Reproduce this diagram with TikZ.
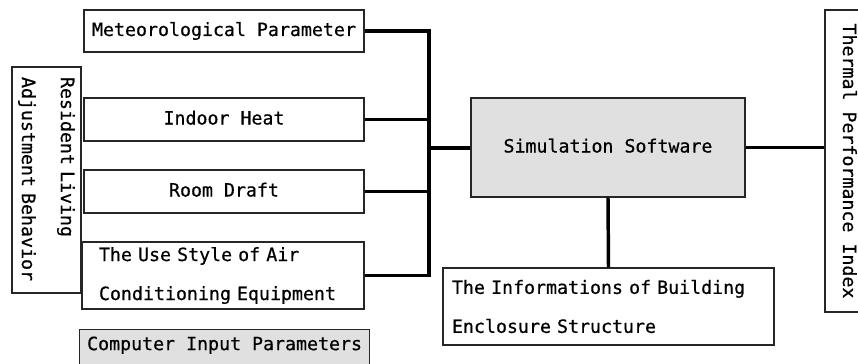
\documentclass[tikz,border=0pt]{standalone}
\usepackage{fontspec}
\newfontfamily\diagmono{DejaVu Sans Mono}[FakeBold=0.6]
\tikzset{
  box/.style={draw=black!85, line width=0.9pt, inner sep=0pt, align=center,
    text=black, font=\diagmono\fontsize{13.7pt}{29.25pt}\selectfont},
  oneline/.style={text height=10pt, text depth=2.5pt},
  shaded/.style={fill=black!12},
  wire/.style={line width=2.6pt, draw=black}
}
\begin{document}
\begin{tikzpicture}[x=0.75pt, y=-0.75pt]
  \useasboundingbox (0,0) rectangle (858,364);

  % input parameter boxes
  \node[box, oneline, minimum width=210pt, minimum height=31.5pt] (met) at (224,31) {Meteorological Parameter};
  \node[box, oneline, minimum width=210pt, minimum height=32.25pt] (heat) at (224,119.5) {Indoor Heat};
  \node[box, oneline, minimum width=210pt, minimum height=32.25pt] (draft) at (224,191.5) {Room Draft};
  \node[box, align=left, text width=186pt, minimum width=211.5pt, minimum height=50.25pt] (air) at (223,275.5)
    {The Use Style of Air\\Conditioning Equipment};

  % grouping label on the left
  \node[box, rotate=-90, align=left, text width=154.5pt, minimum width=169.5pt, minimum height=51.75pt] (res) at (46.5,180)
    {Resident Living\\Adjustment Behavior};

  % legend box
  \node[box, shaded, anchor=north west, minimum width=217.5pt, text height=15.4pt, text depth=30pt] (comp) at (79,329)
    {Computer Input Parameters};

  % core
  \node[box, shaded, oneline, minimum width=205.5pt, minimum height=74.25pt] (sim) at (608,147.5) {Simulation Software};
  \node[box, align=left, text width=234.75pt, minimum width=248.25pt, minimum height=57.75pt] (info) at (608.5,306.5)
    {The Informations of Building\\Enclosure Structure};
  \node[box, rotate=-90, oneline, minimum width=226.5pt, minimum height=34.5pt] (therm) at (848,161)
    {Thermal Performance Index};

  % connectors
  \coordinate (bus) at (429,148);
  \draw[wire] (met.east) -| (bus);
  \draw[wire] (heat.east) -| (bus);
  \draw[wire] (draft.east) -| (bus);
  \draw[wire] (air.east) -| (bus);
  \draw[wire] (bus) -- (bus -| sim.west);
  \draw[wire] (sim.east) -- (sim.east -| therm.south);
  \draw[wire] (sim.south) -- (info.north);
\end{tikzpicture}
\end{document}
